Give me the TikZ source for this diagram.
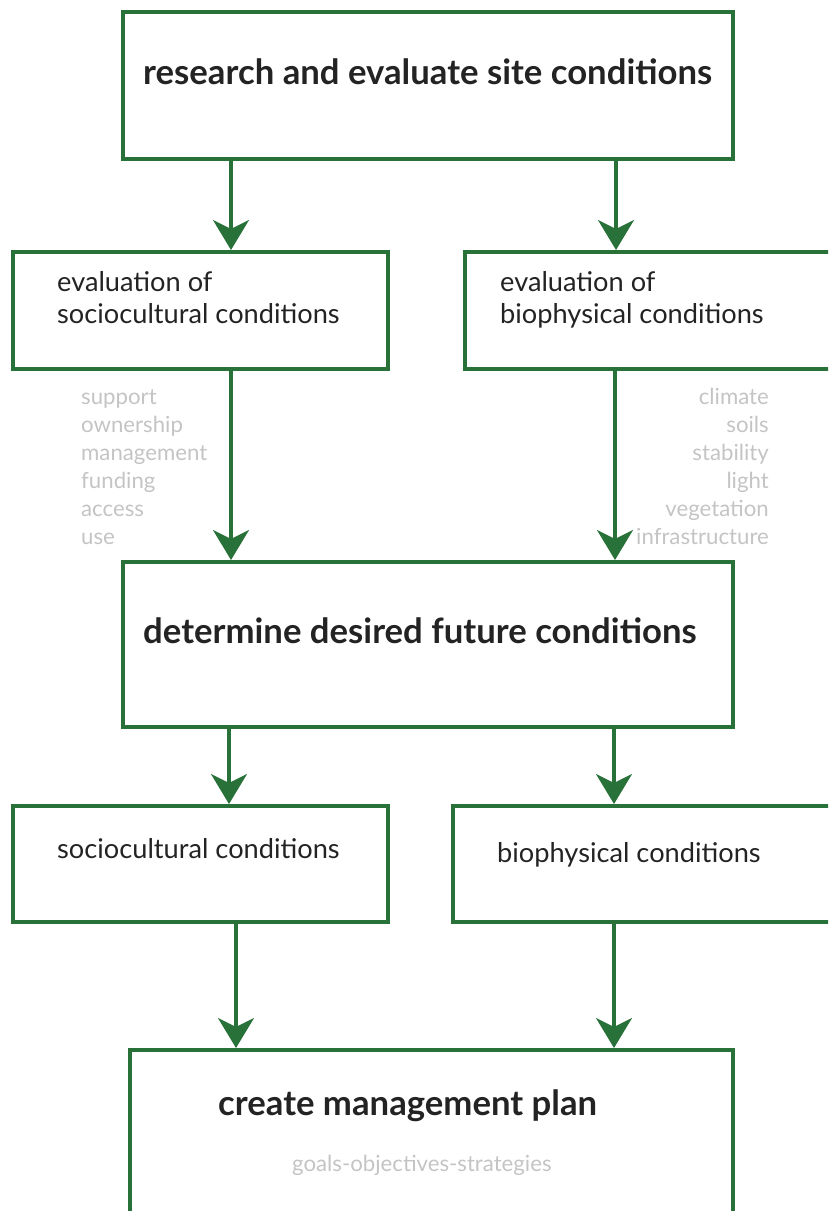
\documentclass[tikz,border=0pt]{standalone}
\usepackage{fontspec}
\setmainfont{Lato}
\usetikzlibrary{arrows.meta,calc}
\definecolor{sitegreen}{RGB}{40,114,58}
\definecolor{listgray}{RGB}{196,196,196}
\definecolor{textdark}{RGB}{35,35,35}
\begin{document}
\begin{tikzpicture}[x=1pt, y=-1pt,
    box/.style={draw=sitegreen, line width=3.5pt, rectangle, inner sep=0pt, anchor=north west},
    flow/.style={draw=sitegreen, line width=3.5pt, -{Stealth[length=30pt,width=36pt,inset=9pt]}},
    headtext/.style={anchor=base west, inner sep=0pt, text=textdark, font=\fontsize{34.7}{40}\selectfont\bfseries},
    steptext/.style={anchor=base west, inner sep=0pt, text=textdark, align=left, font=\fontsize{27.2}{32}\selectfont},
    listtext/.style={inner sep=0pt, text=listgray, font=\fontsize{22.2}{28}\selectfont}]
    % Frame of the picture
    \clip (0,0) rectangle (828,1211);

    % Main boxes
    \node[box, minimum width=610pt, minimum height=147pt] (research) at (121,10) {};
    \node[box, minimum width=610pt, minimum height=165pt] (determine) at (121,560) {};
    \node[box, minimum width=603pt, minimum height=200pt] (plan) at (128,1048) {};

    % Evaluation boxes
    \node[box, minimum width=375pt, minimum height=117pt] (evalsocio) at (11,250) {};
    \node[box, minimum width=380pt, minimum height=117pt] (evalbio) at (463,250) {};

    % Condition boxes
    \node[box, minimum width=375pt, minimum height=116pt] (condsocio) at (11,804) {};
    \node[box, minimum width=390pt, minimum height=116pt] (condbio) at (451,804) {};

    % Box texts (base of a multi-line node is its last line)
    \node[headtext] (researchtxt) at (143,84) {research and evaluate site conditions};
    \node[headtext] (determinetxt) at (143,643) {determine desired future conditions};
    \node[headtext] (plantxt) at (218,1115) {create management plan};
    \node[listtext, anchor=base west] (goalstxt) at (292,1171) {goals-objectives-strategies};
    \node[steptext] (evalsociotxt) at (57,323) {evaluation of\\sociocultural conditions};
    \node[steptext] (evalbiotxt) at (500,323) {evaluation of\\biophysical conditions};
    \node[steptext] (condsociotxt) at (57,858) {sociocultural conditions};
    \node[steptext] (condbiotxt) at (497,862) {biophysical conditions};

    % Lists of conditions
    \node[listtext, anchor=base west, align=left] (sociolist) at (81,544)
        {support\\ownership\\management\\funding\\access\\use};
    \node[listtext, anchor=base east, align=right] (biolist) at (769,544)
        {climate\\soils\\stability\\light\\vegetation\\infrastructure};

    % Arrows
    \draw[flow] ([xshift=110]research.south west) -- ([xshift=110]research.south west |- evalsocio.north);
    \draw[flow] ([xshift=495]research.south west) -- ([xshift=495]research.south west |- evalbio.north);
    \draw[flow] ([xshift=220]evalsocio.south west) -- ([xshift=220]evalsocio.south west |- determine.north);
    \draw[flow] ([xshift=152]evalbio.south west) -- ([xshift=152]evalbio.south west |- determine.north);
    \draw[flow] ([xshift=108]determine.south west) -- ([xshift=108]determine.south west |- condsocio.north);
    \draw[flow] ([xshift=493]determine.south west) -- ([xshift=493]determine.south west |- condbio.north);
    \draw[flow] ([xshift=225]condsocio.south west) -- ([xshift=225]condsocio.south west |- plan.north);
    \draw[flow] ([xshift=163]condbio.south west) -- ([xshift=163]condbio.south west |- plan.north);
\end{tikzpicture}
\end{document}
